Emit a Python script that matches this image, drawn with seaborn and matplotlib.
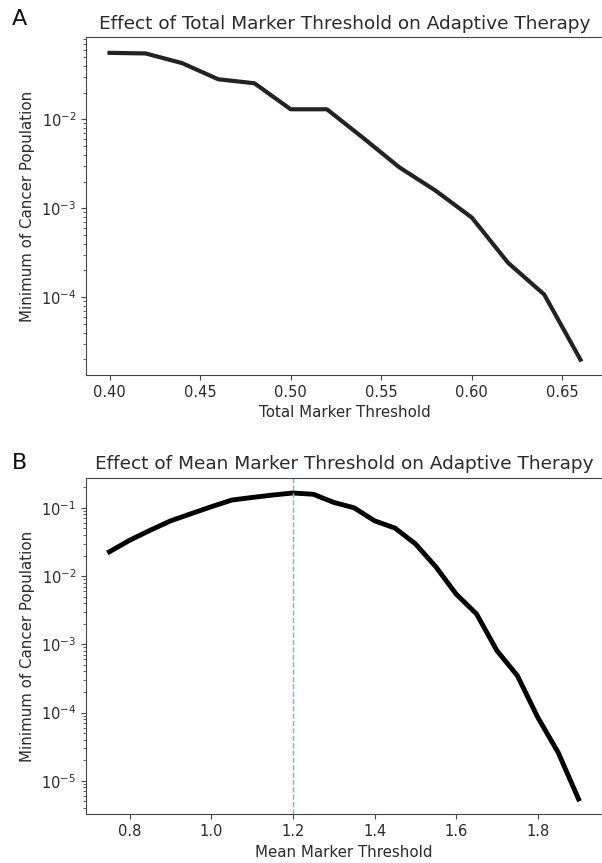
import matplotlib
matplotlib.use("Agg")
import matplotlib.pyplot as plt
import seaborn as sns
import pandas as pd

# Panel A data
total_threshold = [0.40, 0.42, 0.44, 0.46, 0.48, 0.50, 0.52, 0.54, 0.56, 0.58, 0.60, 0.62, 0.64, 0.66]
total_min_pop = [0.0561, 0.0552, 0.043, 0.0283, 0.0255, 0.0130, 0.0130, 0.0062,
                 0.00289, 0.00158, 0.000787, 0.000244, 0.000107, 1.98e-5]

# Panel B data
mean_threshold = [0.75, 0.80, 0.85, 0.90, 0.95, 1.00, 1.05, 1.10, 1.15, 1.20, 1.25, 1.30,
                  1.35, 1.40, 1.45, 1.50, 1.55, 1.60, 1.65, 1.70, 1.75, 1.80, 1.85, 1.90]
mean_min_pop = [0.0227, 0.0336, 0.047, 0.0645, 0.082, 0.104, 0.130, 0.142, 0.154, 0.165,
                0.158, 0.120, 0.100, 0.0645, 0.0505, 0.0297, 0.0137, 0.00544, 0.00278,
                0.000805, 0.000347, 8.5e-5, 2.6e-5, 5.4e-6]
optimal_mean = 1.2

titles = ["Effect of Total Marker Threshold on Adaptive Therapy",
          "Effect of Mean Marker Threshold on Adaptive Therapy"]
xlabels = ["Total Marker Threshold", "Mean Marker Threshold"]
ylabel = "Minimum of Cancer Population"
panel_letters = ["A", "B"]

plt.rcParams['font.family'] = ['DejaVu Sans']
text_color = "#2a2a2a"
plt.rcParams['text.color'] = text_color
plt.rcParams['axes.labelcolor'] = text_color
plt.rcParams['xtick.color'] = "#444444"
plt.rcParams['ytick.color'] = "#444444"
plt.rcParams['xtick.labelcolor'] = text_color
plt.rcParams['ytick.labelcolor'] = text_color
plt.rcParams['axes.edgecolor'] = "#444444"

W, H = 602, 863
fig = plt.figure(figsize=(W / 100, H / 100), dpi=100)

def frac(left, top, right, bottom):
    return [left / W, 1 - bottom / H, (right - left) / W, (bottom - top) / H]

axA = fig.add_axes(frac(86, 37.5, 604, 375))
axB = fig.add_axes(frac(86, 477.7, 602, 814.3))

dfA = pd.DataFrame({"x": total_threshold, "y": total_min_pop})
dfB = pd.DataFrame({"x": mean_threshold, "y": mean_min_pop})

sns.lineplot(data=dfA, x="x", y="y", ax=axA, color="#222222", linewidth=3.0)
sns.lineplot(data=dfB, x="x", y="y", ax=axB, color="#000000", linewidth=3.5)
axB.axvline(optimal_mean, color="#6bbccb", linestyle="--", linewidth=1.0)

for ax, t, xl, letter in zip([axA, axB], titles, xlabels, panel_letters):
    ax.set_yscale("log")
    ax.set_title(t, fontsize=13.3, pad=6)
    ax.set_xlabel(xl, fontsize=10.8)
    ax.set_ylabel(ylabel, fontsize=10.8)
    ax.tick_params(labelsize=10.5)

axA.set_xticks([0.40, 0.45, 0.50, 0.55, 0.60, 0.65])
axA.set_xticklabels(["0.40", "0.45", "0.50", "0.55", "0.60", "0.65"])
axB.set_xticks([0.8, 1.0, 1.2, 1.4, 1.6, 1.8])
axB.set_xticklabels(["0.8", "1.0", "1.2", "1.4", "1.6", "1.8"])

fig.text(19 / W, 1 - 19 / H, "A", fontsize=16, ha="center", va="center", color="#111111")
fig.text(19 / W, 1 - 463 / H, "B", fontsize=16, ha="center", va="center", color="#111111")

fig.savefig("out.png", dpi=100)
